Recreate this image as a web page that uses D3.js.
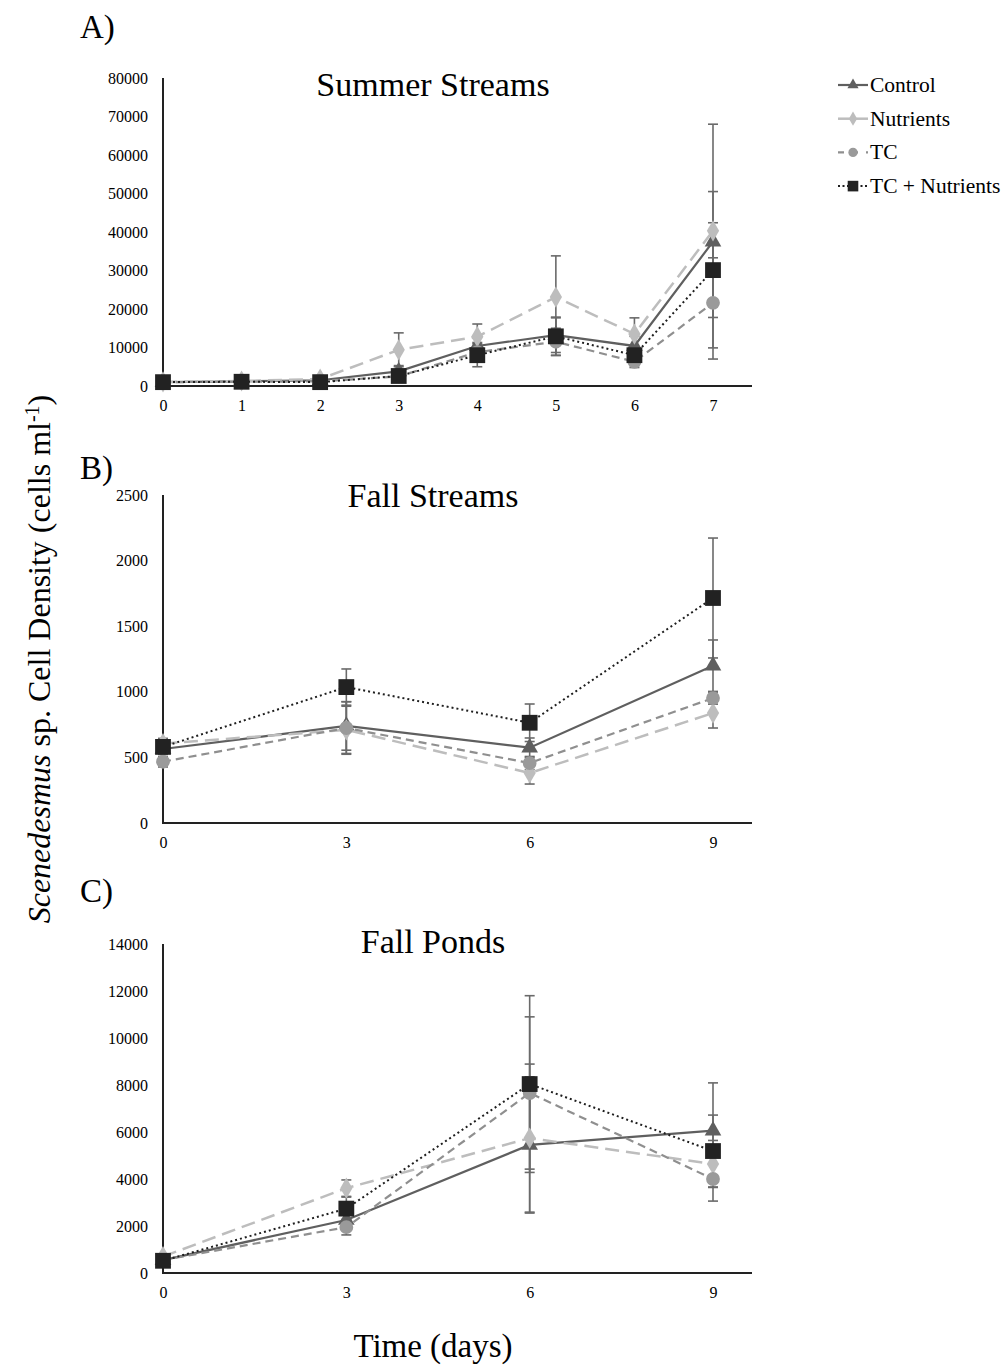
<!DOCTYPE html>
<html>
<head>
<meta charset="utf-8">
<script src="https://cdn.jsdelivr.net/npm/d3@7"></script>
<style>
  body { margin: 0; background: #fff; }
  svg, svg text { font-family: "Liberation Serif", "Times New Roman", serif; }
</style>
</head>
<body>
<svg id="chart" width="1006" height="1365"></svg>
<script>
// series names + styles
const seriesNames = ['Control', 'Nutrients', 'TC', 'TC + Nutrients'];

// A) Summer Streams, days 0..7
const summerDays = [0, 1, 2, 3, 4, 5, 6, 7];
const summerControl = [1000, 1200, 1500, 3800, 10400, 13200, 10400, 37500];
const summerNutrients = [1100, 1300, 1800, 9400, 12800, 23100, 13500, 40300];
const summerTC = [1000, 1100, 1200, 2500, 8800, 11500, 6300, 21600];
const summerTCN = [1000, 1100, 1000, 2600, 8000, 12900, 8000, 30100];
const summerControlErr = [200, 200, 300, 1500, 2500, 4500, 2500, 30500];
const summerNutrientsErr = [200, 200, 300, 4400, 3300, 10700, 4200, 10200];
const summerTCErr = [200, 200, 300, 800, 2500, 3500, 1500, 11700];
const summerTCNErr = [200, 200, 300, 1200, 3000, 5000, 1800, 12300];

// B) Fall Streams, days 0,3,6,9
const fallDays = [0, 3, 6, 9];
const fsControl = [564, 740, 574, 1199];
const fsNutrients = [605, 710, 381, 838];
const fsTC = [467, 724, 457, 952];
const fsTCN = [580, 1036, 764, 1715];
const fsControlErr = [40, 185, 74, 196];
const fsNutrientsErr = [40, 180, 84, 114];
const fsTCErr = [40, 200, 50, 46];
const fsTCNErr = [40, 138, 143, 457];

// C) Fall Ponds, days 0,3,6,9
const fpControl = [550, 2255, 5450, 6060];
const fpNutrients = [700, 3610, 5740, 4640];
const fpTC = [550, 1950, 7660, 4000];
const fpTCN = [520, 2740, 8040, 5190];
const fpControlErr = [80, 350, 2900, 2030];
const fpNutrientsErr = [80, 350, 3150, 1000];
const fpTCErr = [80, 330, 3240, 940];
const fpTCNErr = [80, 490, 3760, 1530];

const styles = [
  { line: '#5f5f5f', fill: '#5f5f5f', dash: null, width: 2.2, symbol: d3.symbolTriangle, size: 120 },
  { line: '#bdbdbd', fill: '#bdbdbd', dash: '14,7', width: 2.5, symbol: d3.symbolDiamond, size: 130 },
  { line: '#8f8f8f', fill: '#9a9a9a', dash: '8,5', width: 2.2, symbol: d3.symbolCircle, size: 150 },
  { line: '#1e1e1e', fill: '#222222', dash: '2,3', width: 2, symbol: d3.symbolSquare, size: 250 }
];

const svg = d3.select('#chart');

const panels = [
  { letter: 'A)', title: 'Summer Streams', letterY: 38, titleY: 96,
    top: 78, bottom: 386, yMax: 80000, yStep: 10000, xMax: 7, days: summerDays,
    series: [summerControl, summerNutrients, summerTC, summerTCN],
    errs: [summerControlErr, summerNutrientsErr, summerTCErr, summerTCNErr] },
  { letter: 'B)', title: 'Fall Streams', letterY: 479, titleY: 507,
    top: 495, bottom: 823, yMax: 2500, yStep: 500, xMax: 9, days: fallDays,
    series: [fsControl, fsNutrients, fsTC, fsTCN],
    errs: [fsControlErr, fsNutrientsErr, fsTCErr, fsTCNErr] },
  { letter: 'C)', title: 'Fall Ponds', letterY: 902, titleY: 953,
    top: 944, bottom: 1273, yMax: 14000, yStep: 2000, xMax: 9, days: fallDays,
    series: [fpControl, fpNutrients, fpTC, fpTCN],
    errs: [fpControlErr, fpNutrientsErr, fpTCErr, fpTCNErr] }
];

const axisLeft = 163, lastX = 713, axisEnd = 752;

panels.forEach(p => {
  const g = svg.append('g');
  const x = d3.scaleLinear().domain([0, p.xMax]).range([axisLeft, lastX]);
  const y = d3.scaleLinear().domain([0, p.yMax]).range([p.bottom, p.top]);

  g.append('text').attr('x', 80).attr('y', p.letterY)
    .attr('font-size', 33).text(p.letter);
  g.append('text').attr('x', 433).attr('y', p.titleY)
    .attr('text-anchor', 'middle').attr('font-size', 34).text(p.title);

  // y axis labels
  const yAxis = g.append('g').attr('transform', `translate(${axisLeft},0)`)
    .call(d3.axisLeft(y).tickValues(d3.range(0, p.yMax + 1, p.yStep)).tickSize(0).tickPadding(15).tickFormat(d3.format('d')));
  yAxis.attr('font-family', 'Liberation Serif').attr('font-size', 16);
  yAxis.select('.domain').remove();
  yAxis.selectAll('text').attr('fill', '#000');

  // x axis labels
  const xAxis = g.append('g').attr('transform', `translate(0,${p.bottom})`)
    .call(d3.axisBottom(x).tickValues(p.days).tickSize(0).tickPadding(14).tickFormat(d3.format('d')));
  xAxis.attr('font-family', 'Liberation Serif').attr('font-size', 16);
  xAxis.select('.domain').remove();
  xAxis.selectAll('text').attr('fill', '#000');

  g.append('line').attr('x1', axisLeft).attr('x2', axisLeft)
    .attr('y1', p.top).attr('y2', p.bottom).attr('stroke', '#222').attr('stroke-width', 2);
  g.append('line').attr('x1', axisLeft - 1).attr('x2', axisEnd)
    .attr('y1', p.bottom).attr('y2', p.bottom).attr('stroke', '#222').attr('stroke-width', 2);

  // error bars
  p.series.forEach((vals, i) => {
    const eb = g.append('g').attr('stroke', '#6a6a6a').attr('stroke-width', 1.6);
    vals.forEach((v, j) => {
      const e = p.errs[i][j];
      const cx = x(p.days[j]);
      const y1 = y(v + e), y2 = y(Math.max(0, v - e));
      eb.append('line').attr('x1', cx).attr('x2', cx).attr('y1', y1).attr('y2', y2);
      eb.append('line').attr('x1', cx - 5).attr('x2', cx + 5).attr('y1', y1).attr('y2', y1);
      eb.append('line').attr('x1', cx - 5).attr('x2', cx + 5).attr('y1', y2).attr('y2', y2);
    });
  });

  // lines + markers
  p.series.forEach((vals, i) => {
    const s = styles[i];
    const line = d3.line().x((d, j) => x(p.days[j])).y(d => y(d));
    g.append('path').datum(vals).attr('d', line)
      .attr('fill', 'none').attr('stroke', s.line).attr('stroke-width', s.width)
      .attr('stroke-dasharray', s.dash);
    g.selectAll(null).data(vals).enter().append('path')
      .attr('transform', (d, j) => `translate(${x(p.days[j])},${y(d)})`)
      .attr('d', d3.symbol().type(s.symbol).size(s.size))
      .attr('fill', s.fill);
  });
});

// legend
const legend = svg.append('g');
seriesNames.forEach((name, i) => {
  const s = styles[i];
  const ly = 85 + i * 33.7;
  const row = legend.append('g');
  row.append('line').attr('x1', 838).attr('x2', 868).attr('y1', ly).attr('y2', ly)
    .attr('stroke', s.line).attr('stroke-width', s.width)
    .attr('stroke-dasharray', i === 2 ? '6,8' : (i === 3 ? '2,2.5' : null));
  row.append('path').attr('transform', `translate(853,${ly})`)
    .attr('d', d3.symbol().type(s.symbol).size(s.size * 0.45)).attr('fill', s.fill);
  row.append('text').attr('x', 870).attr('y', ly + 7).attr('font-size', 21.5).text(name);
});

// shared axis titles
const yl = svg.append('text').attr('transform', 'translate(50,659) rotate(-90)')
  .attr('text-anchor', 'middle').attr('font-size', 32);
yl.append('tspan').attr('font-style', 'italic').text('Scenedesmus');
yl.append('tspan').text(' sp. Cell Density (cells ml');
yl.append('tspan').attr('baseline-shift', 'super').attr('font-size', 20).text('-1');
yl.append('tspan').text(')');

svg.append('text').attr('x', 433).attr('y', 1357).attr('text-anchor', 'middle')
  .attr('font-size', 33).text('Time (days)');
</script>
</body>
</html>
